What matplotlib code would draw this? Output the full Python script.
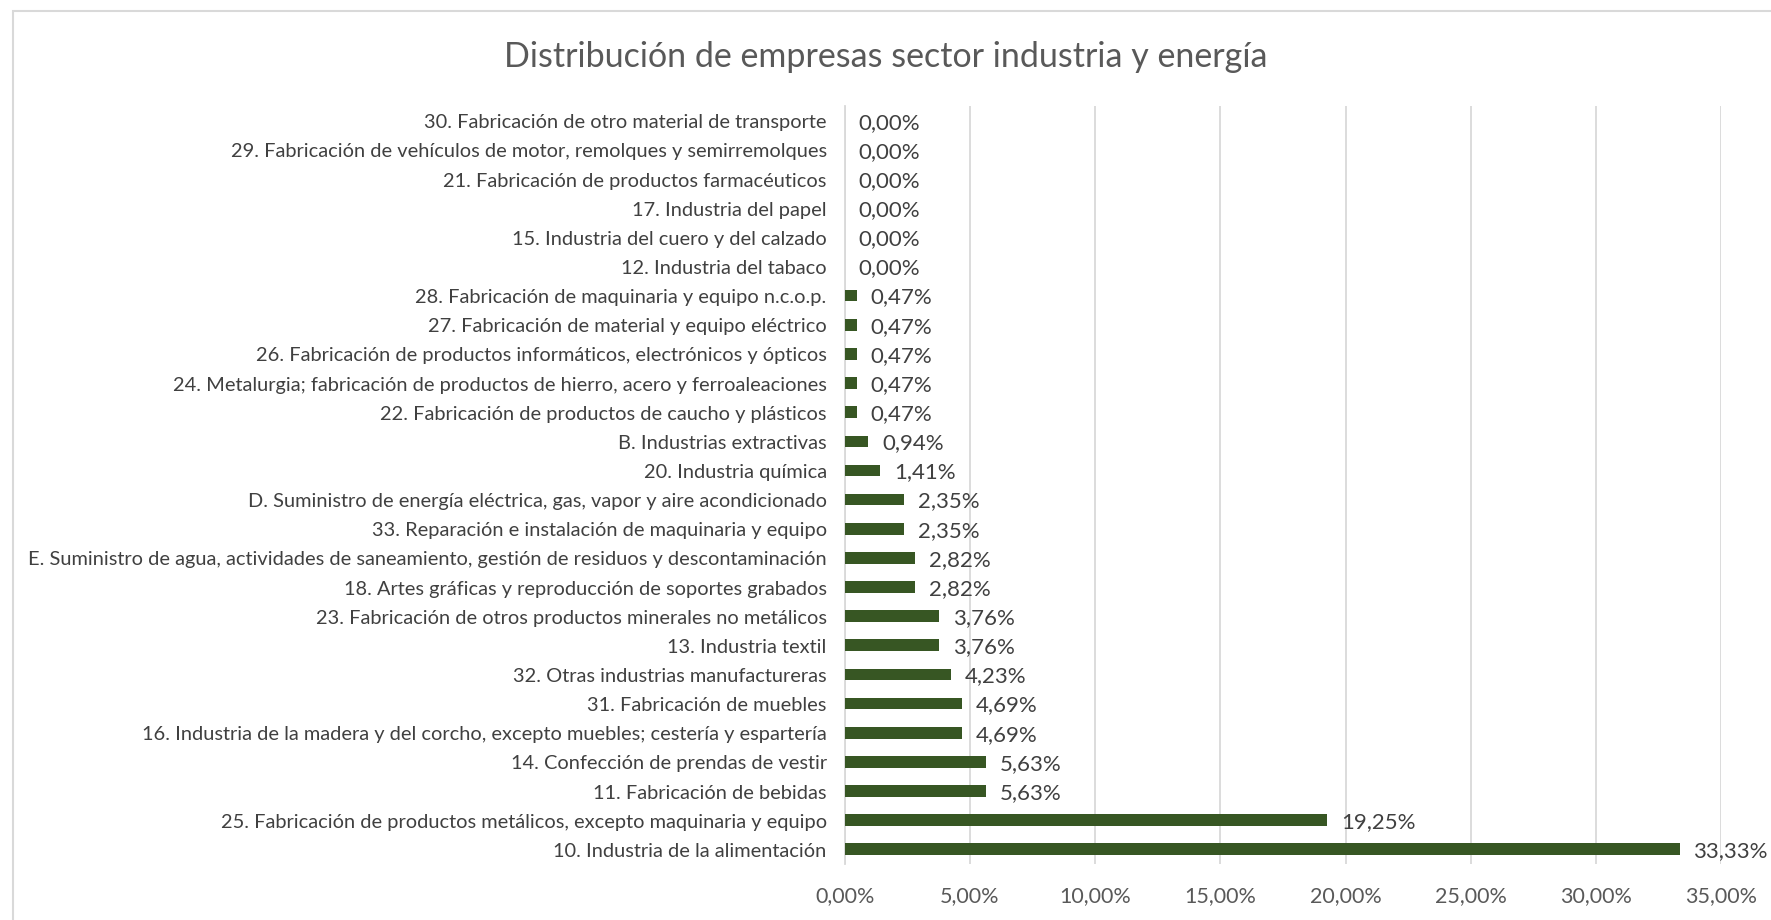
import matplotlib
matplotlib.use("Agg")
import matplotlib.pyplot as plt
from matplotlib.patches import Rectangle

# bottom-to-top order, as in the chart
sectors = [
    "10. Industria de la alimentación",
    "25. Fabricación de productos metálicos, excepto maquinaria y equipo",
    "11. Fabricación de bebidas",
    "14. Confección de prendas de vestir",
    "16. Industria de la madera y del corcho, excepto muebles; cestería y espartería",
    "31. Fabricación de muebles",
    "32. Otras industrias manufactureras",
    "13. Industria textil",
    "23. Fabricación de otros productos minerales no metálicos",
    "18. Artes gráficas y reproducción de soportes grabados",
    "E. Suministro de agua, actividades de saneamiento, gestión de residuos y descontaminación",
    "33. Reparación e instalación de maquinaria y equipo",
    "D. Suministro de energía eléctrica, gas, vapor y aire acondicionado",
    "20. Industria química",
    "B. Industrias extractivas",
    "22. Fabricación de productos de caucho y plásticos",
    "24. Metalurgia; fabricación de productos de hierro, acero y ferroaleaciones",
    "26. Fabricación de productos informáticos, electrónicos y ópticos",
    "27. Fabricación de material y equipo eléctrico",
    "28. Fabricación de maquinaria y equipo n.c.o.p.",
    "12. Industria del tabaco",
    "15. Industria del cuero y del calzado",
    "17. Industria del papel",
    "21. Fabricación de productos farmacéuticos",
    "29. Fabricación de vehículos de motor, remolques y semirremolques",
    "30. Fabricación de otro material de transporte",
]
shares = [33.33, 19.25, 5.63, 5.63, 4.69, 4.69, 4.23, 3.76, 3.76, 2.82, 2.82,
          2.35, 2.35, 1.41, 0.94, 0.47, 0.47, 0.47, 0.47, 0.47,
          0.0, 0.0, 0.0, 0.0, 0.0, 0.0]
x_ticks = [0, 5, 10, 15, 20, 25, 30, 35]

title = "Distribución de empresas sector industria y energía"


def pct(v):
    return f"{v:.2f}%".replace(".", ",")


plt.rcParams["font.family"] = ["Lato", "DejaVu Sans"]

fig = plt.figure(figsize=(17.71, 9.205), dpi=100)
ax = fig.add_axes([0.477, 0.061, 0.495, 0.823])

y = list(range(len(sectors)))
ax.barh(y, shares, height=0.4, color="#375623", zorder=3)
for yi, v in zip(y, shares):
    ax.annotate(pct(v), (v, yi), xytext=(10, -1), textcoords="offset points",
                va="center", ha="left", fontsize=16, color="#404040")

ax.set_xlim(0, 35)
ax.set_ylim(-0.5, len(sectors) - 0.5)
ax.set_xticks(x_ticks)
ax.set_xticklabels([pct(t) for t in x_ticks], fontsize=15.5, color="#595959")
ax.set_yticks(y)
ax.set_yticklabels(sectors, fontsize=14.4, color="#404040")
ax.tick_params(axis="x", length=0, pad=16)
ax.tick_params(axis="y", length=0, pad=13)
ax.grid(axis="x", color="#D9D9D9", linewidth=1.3, zorder=0)
for s in ["top", "right", "bottom"]:
    ax.spines[s].set_visible(False)
ax.spines["left"].set_color("#D9D9D9")
ax.spines["left"].set_linewidth(1.3)

fig.text(0.5, 0.938, title, ha="center", va="center", fontsize=24.5,
         color="#595959")

# outer chart frame
fig.patches.append(Rectangle((0.0076, -0.05), 1.1, 1.038, transform=fig.transFigure,
                             fill=False, edgecolor="#D9D9D9", linewidth=1.5))

fig.savefig("out.png", dpi=100, facecolor="white")
